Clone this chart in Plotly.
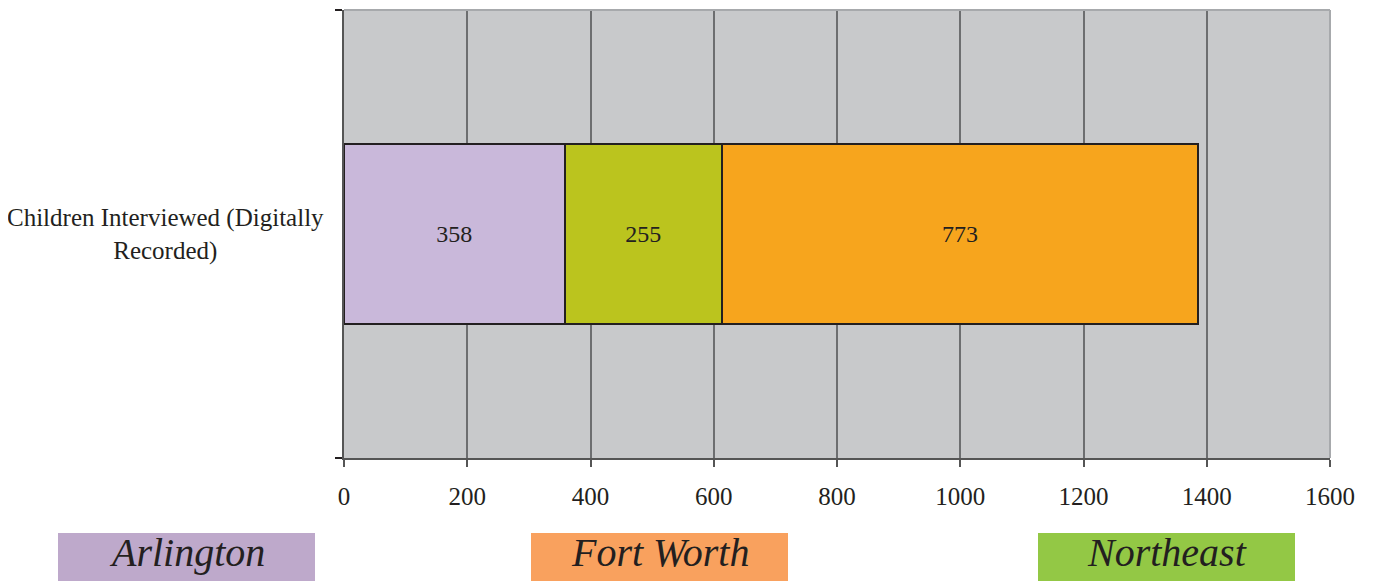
import plotly.graph_objects as go

# chart data
category = "Children Interviewed (Digitally Recorded)"
category_label = "Children Interviewed (Digitally<br>Recorded)"
regions = ["Arlington", "Fort Worth", "Northeast"]
counts = [358, 255, 773]
bar_colors = ["#c9b8da", "#bbc41e", "#f7a51d"]
legend_colors = ["#bea9cb", "#f9a15e", "#93c845"]
x_ticks = [0, 200, 400, 600, 800, 1000, 1200, 1400, 1600]

OFF = 8  # the page puts the figure 8px in from the corner
W, H = 1374 - OFF, 581 - OFF
L, R, T, B = 344 - OFF, 1330 - OFF, 10 - OFF, 458 - OFF  # plot area in figure pixels


def px_x(x):
    # x in window pixels -> paper coords
    return (x - OFF - L) / (R - L)


def px_y(y):
    return (B - (y - OFF)) / (B - T)


fig = go.Figure()
for name, val, col in zip(regions, counts, bar_colors):
    fig.add_trace(go.Bar(
        y=[category], x=[val], name=name, orientation="h",
        marker=dict(color=col, line=dict(color="#231f20", width=2)),
        width=0.4, text=[str(val)], textposition="inside",
        insidetextanchor="middle",
        textfont=dict(family="Liberation Serif", size=24, color="#231f20"),
        showlegend=False, hoverinfo="x+name",
    ))

fig.update_layout(
    barmode="stack",
    width=W, height=H,
    margin=dict(l=L, r=W - R, t=T, b=H - B),
    paper_bgcolor="white",
    plot_bgcolor="#c8c9cb",
    font=dict(family="Liberation Serif", size=24, color="#231f20"),
)
fig.update_xaxes(
    range=[0, 1600], tickvals=x_ticks, showgrid=True,
    gridcolor="#6d6e70", gridwidth=1.5,
    showline=True, linecolor="#555555", linewidth=2,
    ticks="outside", ticklen=7, tickcolor="#555555", tickwidth=1.5,
    ticklabelstandoff=8, zeroline=False,
    tickfont=dict(family="Liberation Serif", size=25, color="#231f20"),
)
fig.update_yaxes(
    type="category", tickson="boundaries", ticks="outside", ticklen=7,
    tickcolor="#231f20", tickwidth=1.5, showticklabels=False,
    showline=True, linecolor="#555555", linewidth=2, showgrid=False,
)

# category label, centred lines like the original
fig.add_annotation(
    x=px_x(326), xref="paper", y=category, yref="y",
    text=category_label, showarrow=False, xanchor="right", align="center",
    font=dict(family="Liberation Serif", size=25, color="#231f20"),
)

# light border on top and right
fig.add_shape(type="line", xref="paper", yref="paper", x0=0, x1=1, y0=1, y1=1,
              line=dict(color="#a7a9ac", width=2))
fig.add_shape(type="line", xref="paper", yref="paper", x0=1, x1=1, y0=0, y1=1,
              line=dict(color="#a7a9ac", width=2))

# region name boxes below the chart
box_left = [58, 531, 1038]
box_w = 257
for name, col, bx in zip(regions, legend_colors, box_left):
    fig.add_shape(type="rect", xref="paper", yref="paper",
                  x0=px_x(bx), x1=px_x(bx + box_w), y0=px_y(581), y1=px_y(533),
                  fillcolor=col, line=dict(width=0))
    fig.add_annotation(x=px_x(bx + box_w / 2), y=px_y(552), xref="paper", yref="paper",
                       text="<i>" + name + "</i>", showarrow=False,
                       xanchor="center", yanchor="middle",
                       font=dict(family="Liberation Serif", size=40, color="#231f20"))

fig.write_html("out.html")
